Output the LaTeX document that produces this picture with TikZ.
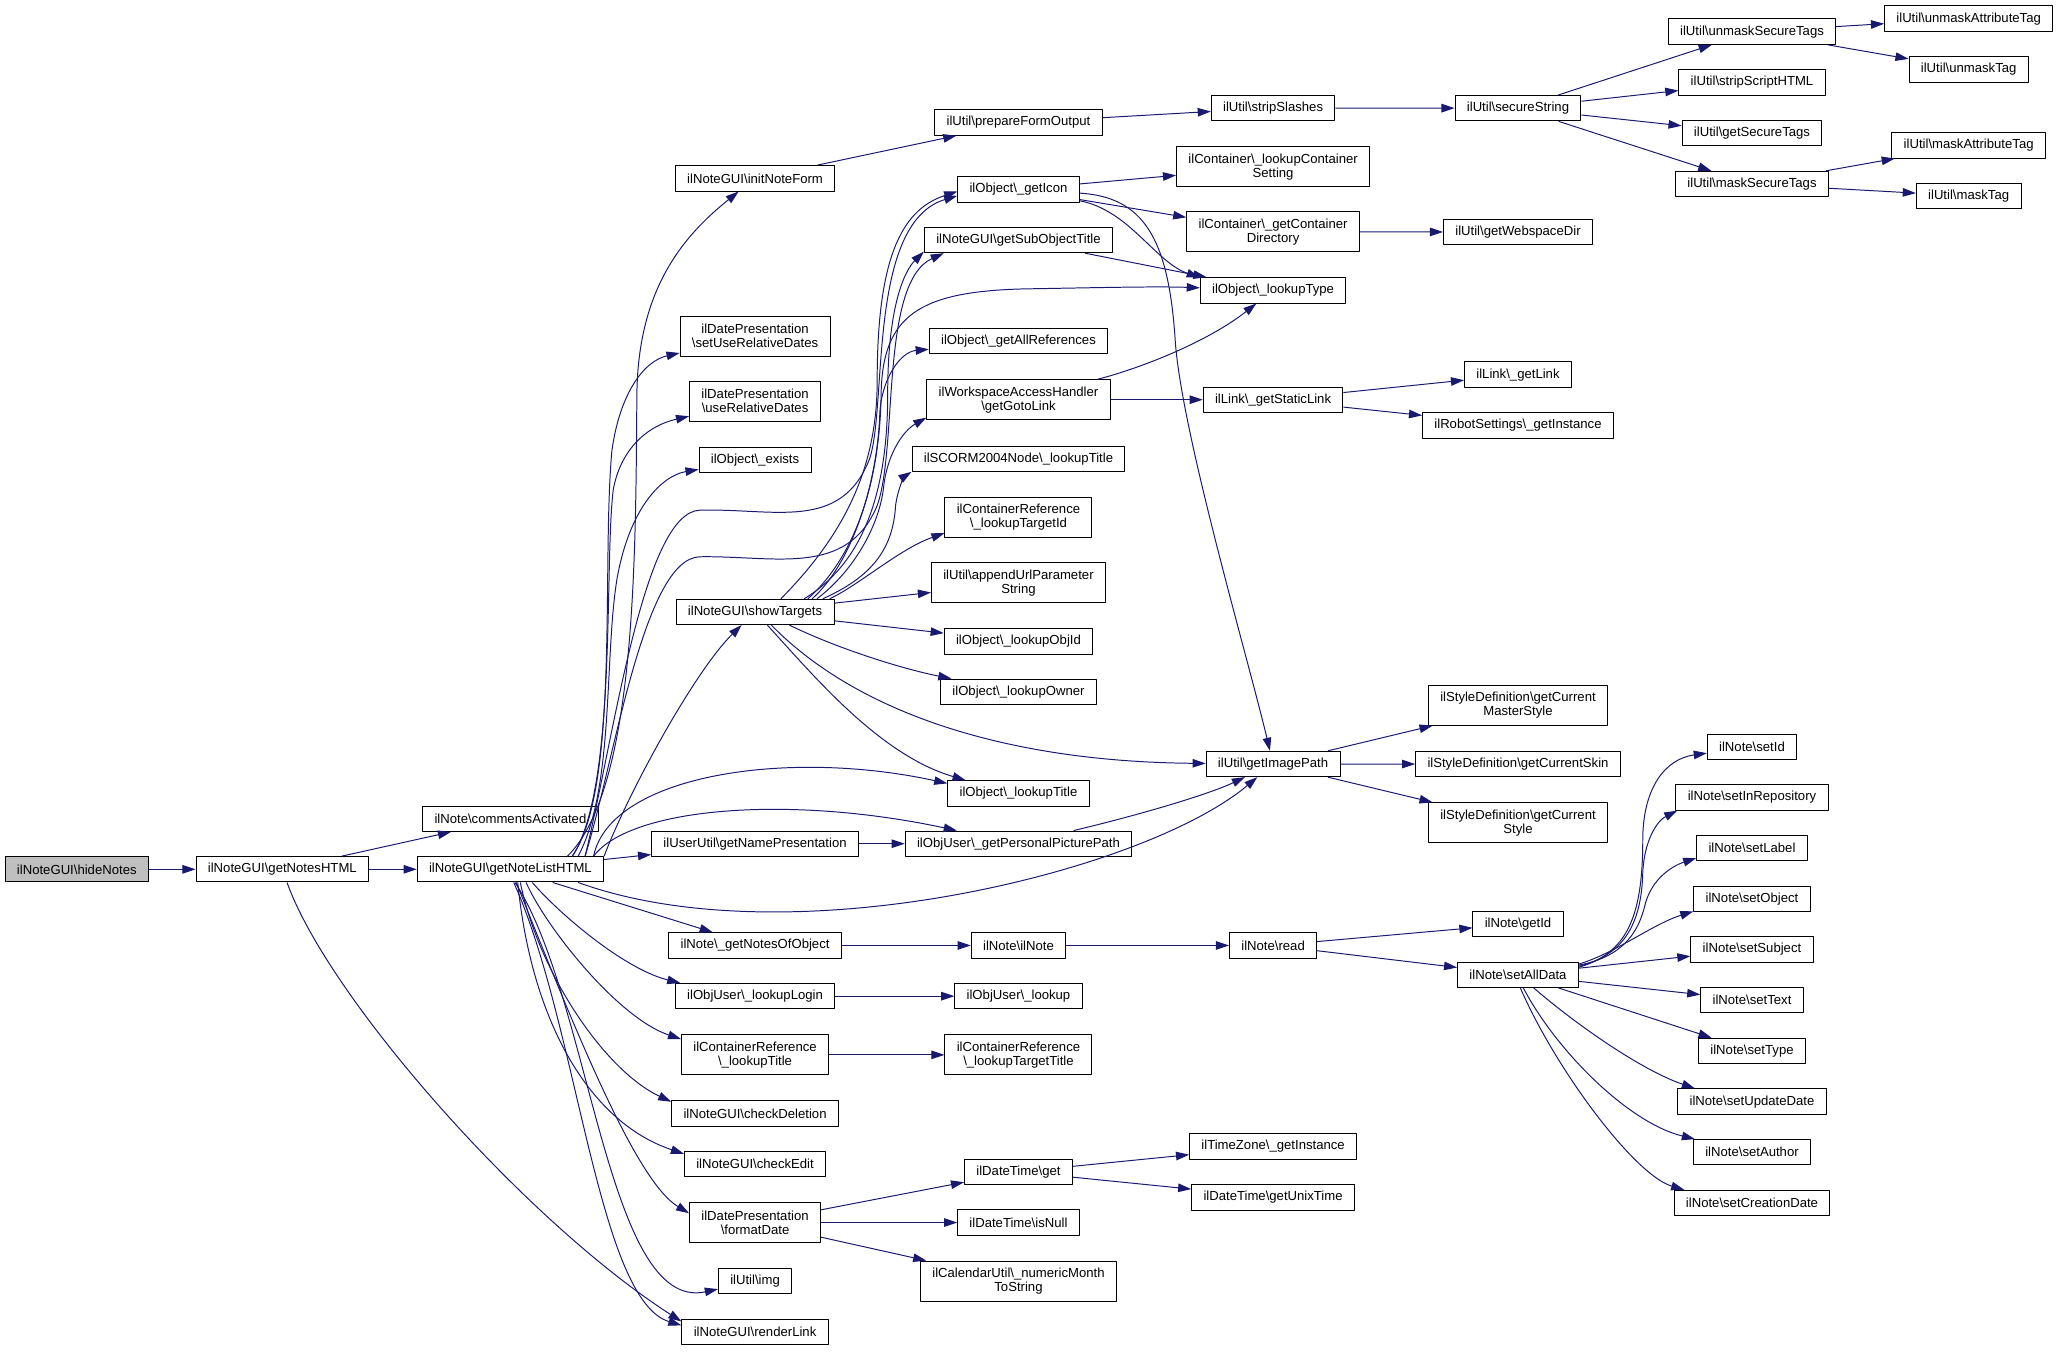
\documentclass[tikz,border=0pt]{standalone}
\usepackage{fontspec}
\setmainfont{Liberation Sans}
\usetikzlibrary{arrows.meta}
\definecolor{midnight}{HTML}{191970}
\newcommand{\bsl}{\textbackslash}
\tikzset{
  fn/.style={draw=black,fill=white,font=\fontsize{10bp}{10.7bp}\selectfont,align=center,
    inner xsep=9bp,inner ysep=2bp,minimum height=19.3bp},
  fntwo/.style={fn,minimum height=30.5bp},
}
\begin{document}
\begin{tikzpicture}[>={Triangle[length=10bp,width=6.5bp]},line join=bevel,line width=0.75bp,yscale=-1]
\useasboundingbox (0bp,0bp) rectangle (1568bp,1029bp);
%%
\node (node_hideNotes) at (58.5bp,662.0bp) [fn,fill=black!25] {ilNoteGUI\bsl hideNotes};
  \node (node_getNotesHTML) at (215.0bp,662.0bp) [fn] {ilNoteGUI\bsl getNotesHTML};
  \node (node_commentsActivated) at (388.7bp,623.5bp) [fn] {ilNote\bsl commentsActivated};
  \node (node_getNoteListHTML) at (388.7bp,662.0bp) [fn] {ilNoteGUI\bsl getNoteListHTML};
  \node (node_initNoteForm) at (575.0bp,135.8bp) [fn] {ilNoteGUI\bsl initNoteForm};
  \node (node_setUseRelativeDates) at (575.0bp,255.9bp) [fntwo] {ilDatePresentation\\\bsl setUseRelativeDates};
  \node (node_useRelativeDates) at (575.0bp,305.4bp) [fntwo] {ilDatePresentation\\\bsl useRelativeDates};
  \node (node_exists) at (575.0bp,350.4bp) [fn] {ilObject\bsl\_exists};
  \node (node_showTargets) at (575.0bp,466.0bp) [fn] {ilNoteGUI\bsl showTargets};
  \node (node_getNamePresentation) at (575.0bp,642.5bp) [fn] {ilUserUtil\bsl getNamePresentation};
  \node (node_getNotesOfObject) at (575.0bp,720.0bp) [fn] {ilNote\bsl\_getNotesOfObject};
  \node (node_lookupLogin) at (575.0bp,758.6bp) [fn] {ilObjUser\bsl\_lookupLogin};
  \node (node_lookupTitleCR) at (575.0bp,803.3bp) [fntwo] {ilContainerReference\\\bsl\_lookupTitle};
  \node (node_checkDeletion) at (575.0bp,848.0bp) [fn] {ilNoteGUI\bsl checkDeletion};
  \node (node_checkEdit) at (575.0bp,886.3bp) [fn] {ilNoteGUI\bsl checkEdit};
  \node (node_formatDate) at (575.0bp,931.0bp) [fntwo] {ilDatePresentation\\\bsl formatDate};
  \node (node_img) at (575.0bp,975.6bp) [fn] {ilUtil\bsl img};
  \node (node_renderLink) at (575.0bp,1014.2bp) [fn] {ilNoteGUI\bsl renderLink};
  \node (node_prepareFormOutput) at (775.6bp,93.3bp) [fn] {ilUtil\bsl prepareFormOutput};
  \node (node_getIcon) at (775.6bp,144.2bp) [fn] {ilObject\bsl\_getIcon};
  \node (node_getSubObjectTitle) at (775.6bp,182.8bp) [fn] {ilNoteGUI\bsl getSubObjectTitle};
  \node (node_getAllReferences) at (775.6bp,259.9bp) [fn] {ilObject\bsl\_getAllReferences};
  \node (node_getGotoLink) at (775.6bp,304.4bp) [fntwo] {ilWorkspaceAccessHandler\\\bsl getGotoLink};
  \node (node_lookupTitleSCORM) at (775.6bp,349.3bp) [fn] {ilSCORM2004Node\bsl\_lookupTitle};
  \node (node_lookupTargetId) at (775.6bp,394.0bp) [fntwo] {ilContainerReference\\\bsl\_lookupTargetId};
  \node (node_appendUrlParameterString) at (775.6bp,443.8bp) [fntwo] {ilUtil\bsl appendUrlParameter\\String};
  \node (node_lookupObjId) at (775.6bp,488.5bp) [fn] {ilObject\bsl\_lookupObjId};
  \node (node_lookupOwner) at (775.6bp,526.8bp) [fn] {ilObject\bsl\_lookupOwner};
  \node (node_lookupTitle) at (775.6bp,604.2bp) [fn] {ilObject\bsl\_lookupTitle};
  \node (node_getPersonalPicturePath) at (775.6bp,642.5bp) [fn] {ilObjUser\bsl\_getPersonalPicturePath};
  \node (node_ilNote) at (775.6bp,720.0bp) [fn] {ilNote\bsl ilNote};
  \node (node_lookup) at (775.6bp,758.6bp) [fn] {ilObjUser\bsl\_lookup};
  \node (node_lookupTargetTitle) at (775.6bp,803.3bp) [fntwo] {ilContainerReference\\\bsl\_lookupTargetTitle};
  \node (node_get) at (775.6bp,892.3bp) [fn] {ilDateTime\bsl get};
  \node (node_isNull) at (775.6bp,931.0bp) [fn] {ilDateTime\bsl isNull};
  \node (node_numericMonthToString) at (775.6bp,975.6bp) [fntwo] {ilCalendarUtil\bsl\_numericMonth\\ToString};
  \node (node_stripSlashes) at (969.5bp,82.2bp) [fn] {ilUtil\bsl stripSlashes};
  \node (node_lookupContainerSetting) at (969.5bp,127.0bp) [fntwo] {ilContainer\bsl\_lookupContainer\\Setting};
  \node (node_getContainerDirectory) at (969.5bp,176.5bp) [fntwo] {ilContainer\bsl\_getContainer\\Directory};
  \node (node_lookupType) at (969.5bp,221.1bp) [fn] {ilObject\bsl\_lookupType};
  \node (node_getStaticLink) at (969.5bp,304.4bp) [fn] {ilLink\bsl\_getStaticLink};
  \node (node_getImagePath) at (969.5bp,581.8bp) [fn] {ilUtil\bsl getImagePath};
  \node (node_read) at (969.5bp,720.0bp) [fn] {ilNote\bsl read};
  \node (node_getInstanceTZ) at (969.5bp,873.0bp) [fn] {ilTimeZone\bsl\_getInstance};
  \node (node_getUnixTime) at (969.5bp,911.8bp) [fn] {ilDateTime\bsl getUnixTime};
  \node (node_secureString) at (1156.0bp,82.4bp) [fn] {ilUtil\bsl secureString};
  \node (node_getWebspaceDir) at (1156.0bp,176.7bp) [fn] {ilUtil\bsl getWebspaceDir};
  \node (node_getLink) at (1156.0bp,285.3bp) [fn] {ilLink\bsl\_getLink};
  \node (node_getInstanceRS) at (1156.0bp,324.0bp) [fn] {ilRobotSettings\bsl\_getInstance};
  \node (node_getCurrentMasterStyle) at (1156.0bp,537.0bp) [fntwo] {ilStyleDefinition\bsl getCurrent\\MasterStyle};
  \node (node_getCurrentSkin) at (1156.0bp,581.9bp) [fn] {ilStyleDefinition\bsl getCurrentSkin};
  \node (node_getCurrentStyle) at (1156.0bp,626.6bp) [fntwo] {ilStyleDefinition\bsl getCurrent\\Style};
  \node (node_getId) at (1156.0bp,703.5bp) [fn] {ilNote\bsl getId};
  \node (node_setAllData) at (1156.0bp,742.3bp) [fn] {ilNote\bsl setAllData};
  \node (node_unmaskSecureTags) at (1334.2bp,24.1bp) [fn] {ilUtil\bsl unmaskSecureTags};
  \node (node_stripScriptHTML) at (1334.2bp,62.8bp) [fn] {ilUtil\bsl stripScriptHTML};
  \node (node_getSecureTags) at (1334.2bp,101.5bp) [fn] {ilUtil\bsl getSecureTags};
  \node (node_maskSecureTags) at (1334.2bp,140.1bp) [fn] {ilUtil\bsl maskSecureTags};
  \node (node_setId) at (1334.2bp,568.7bp) [fn] {ilNote\bsl setId};
  \node (node_setInRepository) at (1334.2bp,607.3bp) [fn] {ilNote\bsl setInRepository};
  \node (node_setLabel) at (1334.2bp,645.9bp) [fn] {ilNote\bsl setLabel};
  \node (node_setObject) at (1334.2bp,684.5bp) [fn] {ilNote\bsl setObject};
  \node (node_setSubject) at (1334.2bp,723.1bp) [fn] {ilNote\bsl setSubject};
  \node (node_setText) at (1334.2bp,761.7bp) [fn] {ilNote\bsl setText};
  \node (node_setType) at (1334.2bp,800.3bp) [fn] {ilNote\bsl setType};
  \node (node_setUpdateDate) at (1334.2bp,838.9bp) [fn] {ilNote\bsl setUpdateDate};
  \node (node_setAuthor) at (1334.2bp,877.5bp) [fn] {ilNote\bsl setAuthor};
  \node (node_setCreationDate) at (1334.2bp,916.1bp) [fn] {ilNote\bsl setCreationDate};
  \node (node_unmaskAttributeTag) at (1499.2bp,14.2bp) [fn] {ilUtil\bsl unmaskAttributeTag};
  \node (node_unmaskTag) at (1499.2bp,52.8bp) [fn] {ilUtil\bsl unmaskTag};
  \node (node_maskAttributeTag) at (1499.2bp,110.7bp) [fn] {ilUtil\bsl maskAttributeTag};
  \node (node_maskTag) at (1499.2bp,149.3bp) [fn] {ilUtil\bsl maskTag};
%
  \draw [midnight,->] (node_hideNotes) -- (node_getNotesHTML);
  \draw [midnight,->] (node_getNotesHTML) -- (node_getNoteListHTML);
  \draw [midnight,->] (node_getNotesHTML) -- (node_commentsActivated);
  \draw [midnight,->] (node_getNotesHTML) ..controls (250bp,760bp) and (400bp,930bp) .. (node_renderLink.172);
  \draw [midnight,->] (node_getNoteListHTML.13) ..controls (485bp,600bp) and (484bp,420bp) .. (485bp,300bp) ..controls (486bp,220bp) and (520bp,180bp) .. (node_initNoteForm);
  \draw [midnight,->] (node_getNoteListHTML.12) ..controls (472bp,600bp) and (458bp,430bp) .. (466bp,343bp) ..controls (472bp,300bp) and (490bp,275bp) .. (node_setUseRelativeDates);
  \draw [midnight,->] (node_getNoteListHTML.12) ..controls (470bp,600bp) and (460bp,430bp) .. (467bp,373bp) ..controls (472bp,345bp) and (490bp,325bp) .. (node_useRelativeDates);
  \draw [midnight,->] (node_getNoteListHTML.11) ..controls (468bp,600bp) and (460bp,500bp) .. (470bp,440bp) ..controls (480bp,385bp) and (505bp,362bp) .. (node_exists);
  \draw [midnight,->] (node_getNoteListHTML.10) ..controls (468bp,560bp) and (490bp,390bp) .. (533bp,388.5bp) ..controls (590bp,387bp) and (640bp,405bp) .. (662bp,350bp) ..controls (676bp,310bp) and (660bp,170bp) .. (node_getIcon.186);
  \draw [midnight,->] (node_getNoteListHTML.10) ..controls (468bp,580bp) and (490bp,425bp) .. (533bp,424bp) ..controls (590bp,423bp) and (645bp,440bp) .. (668bp,385bp) ..controls (684bp,340bp) and (670bp,215bp) .. (node_getSubObjectTitle.190);
  \draw [midnight,->] (node_getNoteListHTML.8) ..controls (480bp,600bp) and (530bp,510bp) .. (node_showTargets);
  \draw [midnight,->] (node_getNoteListHTML.9) ..controls (465bp,590bp) and (600bp,570bp) .. (node_lookupTitle.172);
  \draw [midnight,->] (node_getNoteListHTML.9) ..controls (480bp,615bp) and (600bp,605bp) .. (node_getPersonalPicturePath);
  \draw [midnight,->] (node_getNoteListHTML) -- (node_getNamePresentation);
  \draw [midnight,->] (node_getNoteListHTML.-11) ..controls (600bp,730bp) and (870bp,665bp) .. (node_getImagePath);
  \draw [midnight,->] (node_getNoteListHTML) -- (node_getNotesOfObject);
  \draw [midnight,->] (node_getNoteListHTML.-31) ..controls (425bp,695bp) and (475bp,738bp) .. (node_lookupLogin.170);
  \draw [midnight,->] (node_getNoteListHTML.-40) ..controls (415bp,705bp) and (470bp,775bp) .. (node_lookupTitleCR.168);
  \draw [midnight,->] (node_getNoteListHTML.-53) ..controls (410bp,740bp) and (460bp,815bp) .. (node_checkDeletion.172);
  \draw [midnight,->] (node_getNoteListHTML.-61) ..controls (405bp,780bp) and (450bp,855bp) .. (node_checkEdit.172);
  \draw [midnight,->] (node_getNoteListHTML.-66) ..controls (440bp,790bp) and (485bp,900bp) .. (node_formatDate.172);
  \draw [midnight,->] (node_getNoteListHTML.-71) ..controls (450bp,760bp) and (462bp,1000bp) .. (node_img);
  \draw [midnight,->] (node_getNoteListHTML.-76) ..controls (440bp,780bp) and (455bp,990bp) .. (node_renderLink.175);
%
  \draw [midnight,->] (node_initNoteForm) -- (node_prepareFormOutput);
  \draw [midnight,->] (node_prepareFormOutput) -- (node_stripSlashes);
  \draw [midnight,->] (node_stripSlashes) -- (node_secureString);
  \draw [midnight,->] (node_secureString) -- (node_unmaskSecureTags);
  \draw [midnight,->] (node_secureString) -- (node_stripScriptHTML);
  \draw [midnight,->] (node_secureString) -- (node_getSecureTags);
  \draw [midnight,->] (node_secureString) -- (node_maskSecureTags);
  \draw [midnight,->] (node_unmaskSecureTags) -- (node_unmaskAttributeTag);
  \draw [midnight,->] (node_unmaskSecureTags) -- (node_unmaskTag);
  \draw [midnight,->] (node_maskSecureTags) -- (node_maskAttributeTag);
  \draw [midnight,->] (node_maskSecureTags) -- (node_maskTag);
%
  \draw [midnight,->] (node_showTargets.27) ..controls (640bp,410bp) and (668bp,360bp) .. (668bp,290bp) ..controls (668bp,200bp) and (685bp,160bp) .. (node_getIcon.182);
  \draw [midnight,->] (node_showTargets.15) ..controls (655bp,430bp) and (676bp,380bp) .. (676bp,300bp) ..controls (676bp,230bp) and (690bp,205bp) .. (node_getSubObjectTitle.187);
  \draw [midnight,->] (node_showTargets.14) ..controls (650bp,425bp) and (670bp,370bp) .. (671bp,300bp) ..controls (672bp,240bp) and (700bp,222bp) .. (780bp,220bp) ..controls (840bp,219bp) and (880bp,218bp) .. (node_lookupType);
  \draw [midnight,->] (node_showTargets.13) ..controls (648bp,430bp) and (668bp,370bp) .. (670bp,315bp) ..controls (671bp,290bp) and (685bp,268bp) .. (node_getAllReferences);
  \draw [midnight,->] (node_showTargets.12) ..controls (650bp,435bp) and (670bp,400bp) .. (673bp,370bp) ..controls (676bp,345bp) and (688bp,328bp) .. (node_getGotoLink.191);
  \draw [midnight,->] (node_showTargets.11) ..controls (662bp,440bp) and (680bp,420bp) .. (682bp,385bp) ..controls (684bp,370bp) and (690bp,362bp) .. (node_lookupTitleSCORM.187);
  \draw [midnight,->] (node_showTargets.10) ..controls (655bp,445bp) and (685bp,418bp) .. (node_lookupTargetId.192);
  \draw [midnight,->] (node_showTargets) -- (node_appendUrlParameterString);
  \draw [midnight,->] (node_showTargets) -- (node_lookupObjId);
  \draw [midnight,->] (node_showTargets.-21) ..controls (640bp,495bp) and (690bp,510bp) .. (node_lookupOwner);
  \draw [midnight,->] (node_showTargets.-39) ..controls (650bp,540bp) and (760bp,580bp) .. (node_getImagePath);
  \draw [midnight,->] (node_showTargets.-47) ..controls (620bp,515bp) and (670bp,575bp) .. (node_lookupTitle.166);
%
  \draw [midnight,->] (node_getIcon) -- (node_lookupContainerSetting);
  \draw [midnight,->] (node_getIcon) -- (node_getContainerDirectory);
  \draw [midnight,->] (node_getIcon) ..controls (860bp,160bp) and (880bp,200bp) .. (node_lookupType.170);
  \draw [midnight,->] (node_getIcon) ..controls (870bp,150bp) and (890bp,180bp) .. (895bp,260bp) ..controls (900bp,330bp) and (950bp,500bp) .. (node_getImagePath);
  \draw [midnight,->] (node_getContainerDirectory) -- (node_getWebspaceDir);
  \draw [midnight,->] (node_getSubObjectTitle) -- (node_lookupType);
  \draw [midnight,->] (node_getGotoLink) ..controls (870bp,280bp) and (920bp,260bp) .. (node_lookupType);
  \draw [midnight,->] (node_getGotoLink) -- (node_getStaticLink);
  \draw [midnight,->] (node_getStaticLink) -- (node_getLink);
  \draw [midnight,->] (node_getStaticLink) -- (node_getInstanceRS);
  \draw [midnight,->] (node_getNamePresentation) -- (node_getPersonalPicturePath);
  \draw [midnight,->] (node_getPersonalPicturePath) ..controls (870bp,620bp) and (920bp,605bp) .. (node_getImagePath);
  \draw [midnight,->] (node_getImagePath) -- (node_getCurrentMasterStyle);
  \draw [midnight,->] (node_getImagePath) -- (node_getCurrentSkin);
  \draw [midnight,->] (node_getImagePath) -- (node_getCurrentStyle);
%
  \draw [midnight,->] (node_getNotesOfObject) -- (node_ilNote);
  \draw [midnight,->] (node_ilNote) -- (node_read);
  \draw [midnight,->] (node_read) -- (node_getId);
  \draw [midnight,->] (node_read) -- (node_setAllData);
  \draw [midnight,->] (node_lookupLogin) -- (node_lookup);
  \draw [midnight,->] (node_lookupTitleCR) -- (node_lookupTargetTitle);
  \draw [midnight,->] (node_formatDate) -- (node_get);
  \draw [midnight,->] (node_formatDate) -- (node_isNull);
  \draw [midnight,->] (node_formatDate) -- (node_numericMonthToString);
  \draw [midnight,->] (node_get) -- (node_getInstanceTZ);
  \draw [midnight,->] (node_get) -- (node_getUnixTime);
%
  \draw [midnight,->] (node_setAllData.7) ..controls (1238bp,726bp) and (1251bp,700bp) .. (1251bp,640bp) ..controls (1251bp,600bp) and (1268bp,578bp) .. (node_setId);
  \draw [midnight,->] (node_setAllData.8) ..controls (1239bp,727bp) and (1250bp,700bp) .. (1251bp,665bp) ..controls (1252bp,640bp) and (1262bp,625bp) .. (node_setInRepository.190);
  \draw [midnight,->] (node_setAllData.9) ..controls (1240bp,728bp) and (1249bp,705bp) .. (1253bp,688bp) ..controls (1258bp,670bp) and (1272bp,660bp) .. (node_setLabel.190);
  \draw [midnight,->] (node_setAllData.10) ..controls (1230bp,726bp) and (1258bp,704bp) .. (node_setObject.192);
  \draw [midnight,->] (node_setAllData) -- (node_setSubject);
  \draw [midnight,->] (node_setAllData) -- (node_setText);
  \draw [midnight,->] (node_setAllData) -- (node_setType);
  \draw [midnight,->] (node_setAllData.-40) ..controls (1200bp,780bp) and (1250bp,815bp) .. (node_setUpdateDate.167);
  \draw [midnight,->] (node_setAllData.-68) ..controls (1185bp,800bp) and (1240bp,855bp) .. (node_setAuthor.167);
  \draw [midnight,->] (node_setAllData.-80) ..controls (1185bp,815bp) and (1245bp,895bp) .. (node_setCreationDate.169);
%
\end{tikzpicture}
\end{document}
